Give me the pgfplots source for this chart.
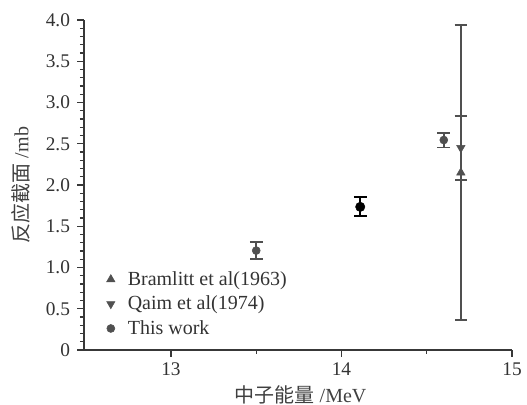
\documentclass[border=0pt]{standalone}
\usepackage{pgfplots}
\pgfplotsset{compat=1.18}
\usepackage{fontspec}
\setmainfont{Liberation Serif}
\newfontfamily\cjk{Noto Sans CJK SC}
\definecolor{mk}{HTML}{505050}
\definecolor{ax}{HTML}{383838}
\begin{document}
\begin{tikzpicture}
\begin{axis}[
  name=main,
  scale only axis, width=321pt, height=247.5pt,
  xmin=12.49, xmax=15, ymin=0, ymax=4,
  axis lines=left, axis line style={-, line width=1.3pt, ax},
  xtick={13,14,15}, minor xtick={13.5,14.5},
  ytick={0,0.5,...,4}, minor y tick num=4,
  yticklabels={0,0.5,1.0,1.5,2.0,2.5,3.0,3.5,4.0},
  tick align=outside, major tick length=5pt, minor tick length=3pt,
  tick style={ax, line width=1pt},
  /pgf/number format/assume math mode=true,
  ticklabel style={font=\fontsize{14.5}{17}\selectfont, text=black!80},
  yticklabel style={xshift=-2pt},
  xticklabel style={yshift=-1pt},
  xlabel={{\cjk 中子能量} /MeV}, ylabel={{\cjk 反应截面} /mb},
  label style={font=\fontsize{15}{18}\selectfont, text=black!75},
  xlabel style={at={(rel axis cs:0.506,-0.136)}, anchor=center},
  ylabel style={at={(rel axis cs:-0.148,0.5)}, anchor=center},
  legend style={draw=none, fill=none, at={(0.043,0.255)}, anchor=north west,
    font=\fontsize{15}{17}\selectfont, text=black!80, row sep=2.5pt},
  legend cell align=left,
  legend image code/.code={\path (0,0) (0.45cm,0); \draw[#1] plot coordinates {(0.08cm,0cm)};},
  clip=false,
]
\addplot[only marks, mark=triangle*, mark size=3.6pt, color=mk,
  error bars/.cd, y dir=both, y explicit, error mark options={rotate=90, mark size=4.6pt, line width=1.3pt, mk},
  error bar style={line width=1.3pt, mk}]
  coordinates {(14.70,2.15) +- (0,1.79)};
\addlegendentry{Bramlitt et al(1963)}
\addplot[only marks, mark=triangle*, mark options={rotate=180}, mark size=3.6pt, color=mk,
  error bars/.cd, y dir=both, y explicit, error mark options={rotate=90, mark size=4.6pt, line width=1.3pt, mk},
  error bar style={line width=1.3pt, mk}]
  coordinates {(14.70,2.45) +- (0,0.39)};
\addlegendentry{Qaim et al(1974)}
\addplot[only marks, mark=*, mark size=3pt, color=mk,
  error bars/.cd, y dir=both, y explicit, error mark options={rotate=90, mark size=4.8pt, line width=1.4pt, mk},
  error bar style={line width=1.4pt, mk}]
  coordinates {(13.5,1.205) +- (0,0.105) (14.6,2.545) +- (0,0.09)};
\addlegendentry{This work}
\addplot[only marks, mark=*, mark size=3.5pt, color=black, forget plot,
  error bars/.cd, y dir=both, y explicit, error mark options={rotate=90, mark size=4.8pt, line width=1.5pt, black},
  error bar style={line width=1.5pt, black}]
  coordinates {(14.11,1.735) +- (0,0.115)};
\end{axis}
\pgfresetboundingbox
\path ([shift={(-63pt,-41.25pt)}]main.south west) rectangle ([shift={(11.25pt,15pt)}]main.north east);
\end{tikzpicture}
\end{document}
